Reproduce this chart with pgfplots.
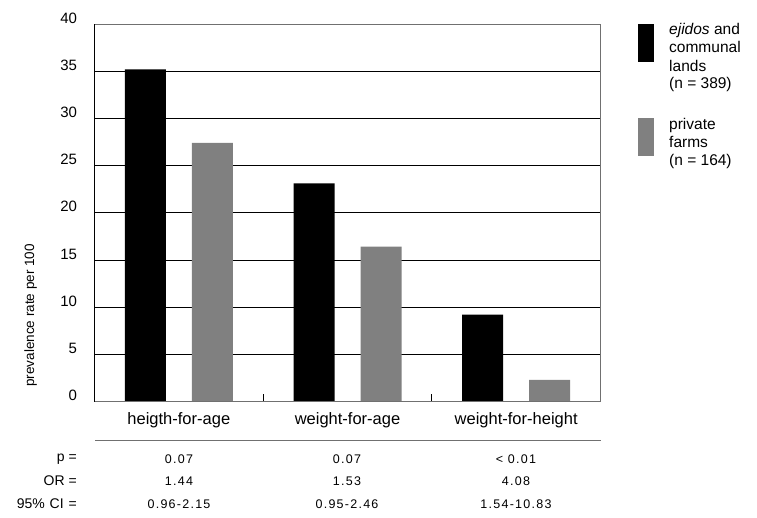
\documentclass[border=0pt]{standalone}
\usepackage{pgfplots}
\pgfplotsset{compat=1.18}
\usepackage{fontspec}
\setmainfont{Liberation Sans}
\definecolor{bargray}{RGB}{128,128,128}
\definecolor{framegray}{RGB}{112,112,112}
\newcommand{\fs}[1]{\fontsize{#1}{#1}\selectfont}
\newcommand{\tv}{\fs{12.5}\addfontfeature{LetterSpace=10}}
\begin{document}
\begin{tikzpicture}
\path[use as bounding box] (0,0) rectangle (757pt,517pt);
\begin{axis}[
  at={(94.5pt,115.5pt)}, anchor=south west,
  scale only axis, width=506pt, height=377.5pt,
  xmin=-0.5, xmax=2.5, ymin=0, ymax=40,
  ybar=26pt, bar width=41pt,
  ytick={0,5,...,40},
  ymajorgrids, grid style={black, line width=0.7pt},
  axis line style={framegray, line width=0.9pt},
  major tick length=0pt,
  xtick pos=bottom,
  xtick={0,1,2},
  xticklabels={heigth-for-age, weight-for-age, weight-for-height},
  extra x ticks={0.5,1.5}, extra x tick labels={},
  extra x tick style={major tick length=8pt, tick align=inside, xtick pos=bottom, tick style={black, line width=0.7pt}},
  /pgf/number format/assume math mode=true,
  yticklabel style={font=\fs{15}, xshift=-14pt, yshift=6pt},
  xticklabel style={font=\fs{16.5}, yshift=-8pt},
  ylabel={prevalence rate per 100},
  ylabel style={font=\fs{13.5}, at={(axis description cs:-0.126,0.228)}, anchor=center},
  clip=false,
]
\addplot[fill=black, draw=none] coordinates {(0,35.2) (1,23.1) (2,9.2)};
\addplot[fill=bargray, draw=none] coordinates {(0,27.4) (1,16.4) (2,2.3)};
\draw[framegray, line width=0.9pt] (rel axis cs:0,1) -- (rel axis cs:1,1);
\draw[framegray, line width=0.9pt] (rel axis cs:0,0) -- (rel axis cs:1,0);
\draw[black, line width=0.9pt] (rel axis cs:0,0) -- (rel axis cs:0,1);
\end{axis}
% table below
\draw[framegray, line width=0.9pt] (95pt,77pt) -- (601pt,77pt);
\node[anchor=east, font=\fs{14}, inner sep=0pt] at (77pt,58pt) {p =};
\node[anchor=east, font=\fs{14}, inner sep=0pt] at (77pt,36pt) {OR =};
\node[anchor=east, font=\fs{14}, inner sep=0pt] at (77pt,13pt) {95\%\hspace{0.35em}CI\hspace{0.35em}=};
\foreach \y/\a/\b/\c in {58/{0.07}/{0.07}/{< 0.01}, 36/{1.44}/{1.53}/{4.08}, 13/{0.96-2.15}/{0.95-2.46}/{1.54-10.83}}{
  \node[font=\tv, inner sep=0pt] at (179pt,\y pt) {\a};
  \node[font=\tv, inner sep=0pt] at (347pt,\y pt) {\b};
  \node[font=\tv, inner sep=0pt] at (516pt,\y pt) {\c};
}
% legend
\fill[black] (638pt,455pt) rectangle (654pt,493pt);
\fill[bargray] (638pt,361pt) rectangle (654pt,399pt);
\node[anchor=base west, font=\fs{15.5}, inner sep=0pt] at (669pt,482pt) {\textit{ejidos} and};
\node[anchor=base west, font=\fs{15.5}, inner sep=0pt] at (669pt,464pt) {communal};
\node[anchor=base west, font=\fs{15.5}, inner sep=0pt] at (669pt,445pt) {lands};
\node[anchor=base west, font=\fs{15.5}, inner sep=0pt] at (669pt,428pt) {(n = 389)};
\node[anchor=base west, font=\fs{15.5}, inner sep=0pt] at (669pt,387pt) {private};
\node[anchor=base west, font=\fs{15.5}, inner sep=0pt] at (669pt,369pt) {farms};
\node[anchor=base west, font=\fs{15.5}, inner sep=0pt] at (669pt,351pt) {(n = 164)};
\end{tikzpicture}
\end{document}
